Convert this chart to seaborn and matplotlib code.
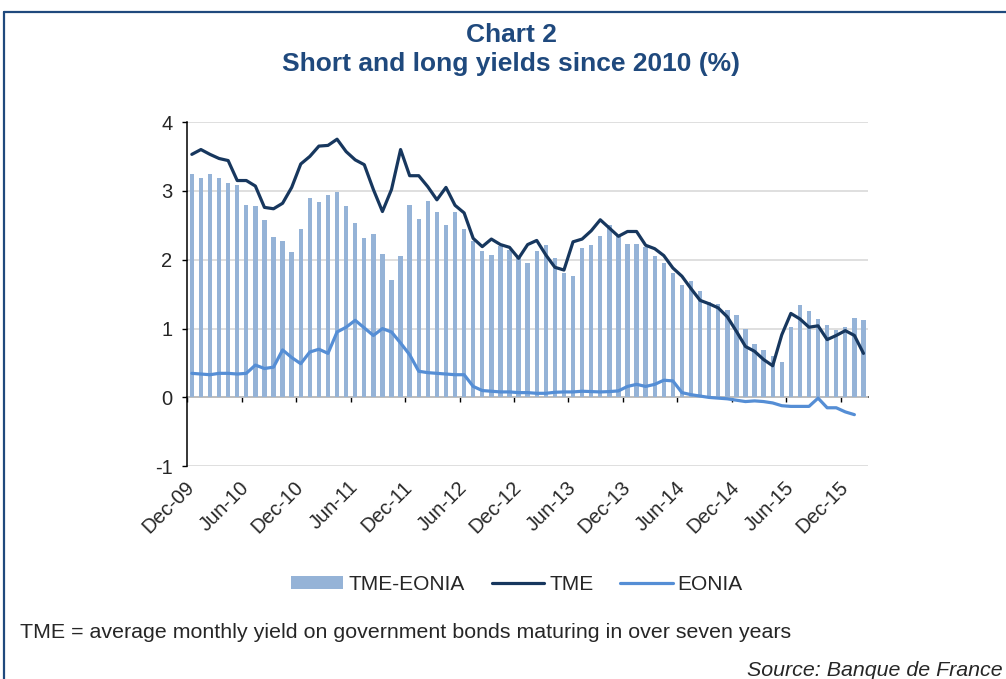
import numpy as np
import pandas as pd
import matplotlib
matplotlib.use("Agg")
import matplotlib.pyplot as plt
from matplotlib.lines import Line2D
from matplotlib.patches import Patch
import seaborn as sns

# ---------------- data ----------------
months = pd.date_range("2009-12-01", periods=75, freq="MS").strftime("%b-%y").tolist()

tme = [3.53, 3.60, 3.53, 3.47, 3.44, 3.15, 3.15, 3.07, 2.76, 2.74, 2.82, 3.05,
       3.39, 3.50, 3.65, 3.66, 3.75, 3.57, 3.45, 3.38, 3.02, 2.70, 3.02, 3.60,
       3.22, 3.22, 3.06, 2.87, 3.05, 2.79, 2.68, 2.31, 2.19, 2.30, 2.22, 2.18,
       2.02, 2.22, 2.28, 2.07, 1.89, 1.85, 2.26, 2.30, 2.42, 2.58, 2.46, 2.34,
       2.41, 2.41, 2.21, 2.16, 2.06, 1.88, 1.76, 1.58, 1.41, 1.36, 1.30, 1.17,
       0.96, 0.74, 0.67, 0.55, 0.46, 0.91, 1.22, 1.14, 1.02, 1.04, 0.84, 0.90,
       0.97, 0.90, 0.64]

eonia = [0.35, 0.34, 0.33, 0.35, 0.35, 0.34, 0.35, 0.47, 0.42, 0.44, 0.69, 0.58,
         0.49, 0.66, 0.70, 0.64, 0.95, 1.02, 1.12, 1.01, 0.90, 1.00, 0.95, 0.79,
         0.62, 0.38, 0.36, 0.35, 0.34, 0.33, 0.33, 0.16, 0.10, 0.09, 0.08, 0.08,
         0.07, 0.07, 0.06, 0.06, 0.075, 0.08, 0.08, 0.09, 0.085, 0.08, 0.085, 0.095,
         0.16, 0.19, 0.16, 0.19, 0.25, 0.24, 0.07, 0.04, 0.02, 0.00, -0.01, -0.02,
         -0.04, -0.06, -0.05, -0.06, -0.08, -0.12, -0.13, -0.13, -0.13, -0.01, -0.15, -0.15,
         -0.21, -0.25, np.nan]

spread = [3.24, 3.18, 3.25, 3.19, 3.11, 3.08, 2.79, 2.78, 2.58, 2.33, 2.27, 2.11,
          2.45, 2.89, 2.84, 2.94, 2.98, 2.78, 2.54, 2.32, 2.37, 2.09, 1.70, 2.06,
          2.80, 2.59, 2.85, 2.69, 2.51, 2.70, 2.44, 2.27, 2.12, 2.07, 2.20, 2.14,
          2.02, 1.95, 2.12, 2.22, 2.03, 1.81, 1.77, 2.17, 2.21, 2.35, 2.50, 2.34,
          2.23, 2.23, 2.18, 2.06, 1.95, 1.80, 1.64, 1.69, 1.54, 1.38, 1.35, 1.27,
          1.19, 1.00, 0.78, 0.69, 0.60, 0.52, 1.02, 1.34, 1.26, 1.14, 1.05, 0.98,
          1.02, 1.16, 1.13]

tick_labels = ["Dec-09", "Jun-10", "Dec-10", "Jun-11", "Dec-11", "Jun-12", "Dec-12",
               "Jun-13", "Dec-13", "Jun-14", "Dec-14", "Jun-15", "Dec-15"]
y_ticks = [-1, 0, 1, 2, 3, 4]

title_1 = "Chart 2"
title_2 = "Short and long yields since 2010 (%)"
note = "TME = average monthly yield on government bonds maturing in over seven years"
source = "Source: Banque de France"

# ---------------- style ----------------
sns.set_theme(style="white")
plt.rcParams["font.family"] = ["Liberation Sans", "DejaVu Sans"]

BAR = "#95B3D7"
DARK = "#17375E"
LIGHT = "#558ED5"
TITLE = "#1F497D"
GRID = "#D9D9D9"

W, H = 1006, 679
fig = plt.figure(figsize=(W / 100, H / 100), dpi=100)
ax = fig.add_axes([187.3 / W, 1 - 466.3 / H, (868 - 187.3) / W, (466.3 - 122) / H])

df = pd.DataFrame({"idx": np.arange(len(months)), "month": months,
                   "TME": tme, "EONIA": eonia, "TME-EONIA": spread})

sns.barplot(data=df, x="idx", y="TME-EONIA", native_scale=True, width=0.48,
            color=BAR, saturation=1, errorbar=None, linewidth=0, ax=ax, zorder=2)
sns.lineplot(data=df, x="idx", y="TME", color=DARK, lw=2.3, ax=ax, zorder=4,
             solid_joinstyle="round", solid_capstyle="round")
sns.lineplot(data=df, x="idx", y="EONIA", color=LIGHT, lw=2.3, ax=ax, zorder=4,
             solid_joinstyle="round", solid_capstyle="round")

ymin, ymax = y_ticks[0], y_ticks[-1]
ax.set_xlim(-0.5, len(months) - 0.5)
ax.set_ylim(ymin, ymax)
ax.set_xlabel("")
ax.set_ylabel("")

tick_pos = [months.index(t) for t in tick_labels]
ax.set_xticks(tick_pos)
ax.set_xticklabels(tick_labels, rotation=45, ha="right", va="center",
                   rotation_mode="anchor", fontsize=14.5)
ax.tick_params(axis="x", length=0, pad=13)

ax.set_yticks(y_ticks)
ax.set_yticklabels([str(v) for v in y_ticks], fontsize=14.5)
ax.tick_params(axis="y", direction="out", length=3.6, width=1, color="black",
               pad=7, left=True)

ax.yaxis.grid(True, color=GRID, lw=1.2)
ax.xaxis.grid(False)
ax.set_axisbelow(True)

for s in ["top", "right", "bottom"]:
    ax.spines[s].set_visible(False)
ax.spines["left"].set_color("black")
ax.spines["left"].set_linewidth(1.1)

# category axis crossing at zero, with tick marks between categories
zero_frac = (0 - ymin) / (ymax - ymin)
sec = ax.secondary_xaxis(zero_frac)
sec.set_xticks([p - 0.5 for p in tick_pos])
sec.set_xticklabels([])
sec.tick_params(axis="x", direction="out", length=3.6, width=1, color="black")
sec.spines["bottom"].set_color("black")
sec.spines["bottom"].set_linewidth(1.1)

# titles
fig.text(511 / W, 1 - 35.5 / H, title_1, ha="center", va="center", fontsize=19,
         fontweight="bold", color=TITLE)
fig.text(511 / W, 1 - 64.5 / H, title_2, ha="center", va="center", fontsize=19,
         fontweight="bold", color=TITLE)

# legend
handles = [Patch(facecolor=BAR, edgecolor="none"),
           Line2D([], [], color=DARK, lw=2.3),
           Line2D([], [], color=LIGHT, lw=2.3)]
fig.legend(handles, ["TME-EONIA", "TME", "EONIA"], loc="center",
           bbox_to_anchor=(517 / W, 1 - 584.5 / H), ncol=3, frameon=False,
           fontsize=15, handlelength=2.5, handleheight=0.6, handletextpad=0.25,
           columnspacing=1.3)

# notes
fig.text(20 / W, 1 - 633 / H, note, ha="left", va="center", fontsize=15.4)
fig.text(1003 / W, 1 - 671 / H, source, ha="right", va="center", fontsize=15.4,
         style="italic")

# frame border (top and left)
fig.add_artist(Line2D([4 / W, 1], [1 - 12 / H, 1 - 12 / H], transform=fig.transFigure,
                      color=TITLE, lw=1.6))
fig.add_artist(Line2D([4 / W, 4 / W], [0, 1 - 12 / H], transform=fig.transFigure,
                      color=TITLE, lw=1.6))

fig.savefig("out.png", dpi=100)
